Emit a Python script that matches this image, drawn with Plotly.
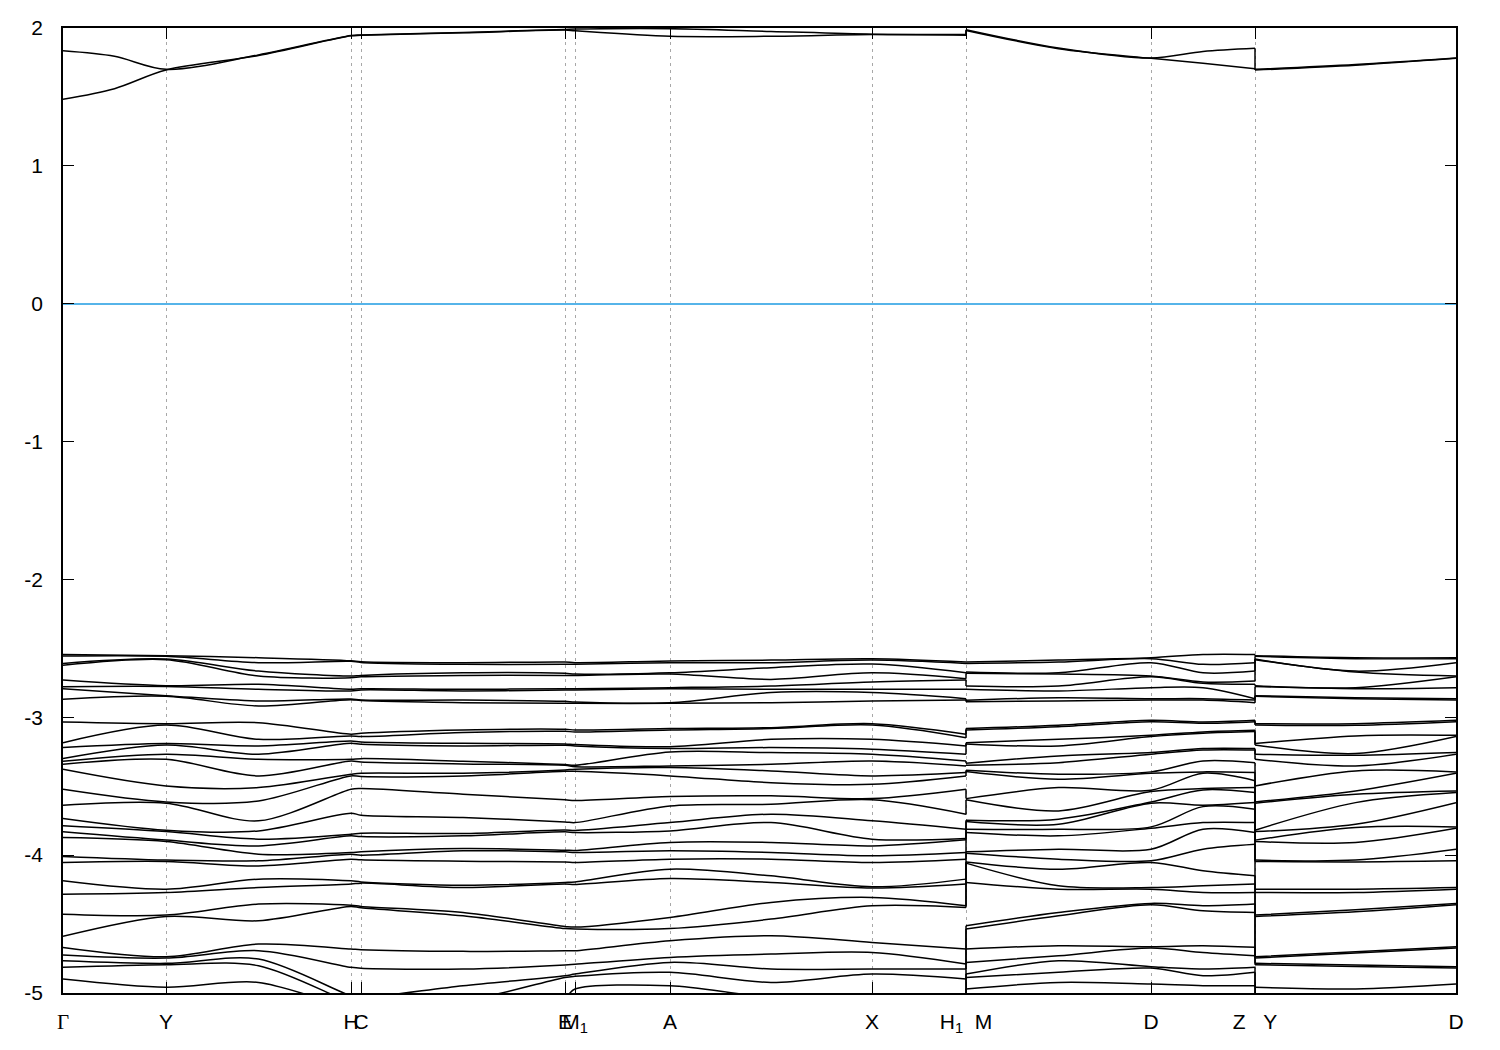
import plotly.graph_objects as go

# ---------------- k-path (arbitrary path-length units) ----------------
K_GAMMA, K_Y, K_H, K_C = 0.0, 1.03, 2.88, 2.98
K_E, K_M1, K_A, K_X = 5.02, 5.12, 6.07, 8.09
K_H1M, K_D, K_ZY, K_DEND = 9.03, 10.88, 11.92, 13.93
# intermediate sampled points along segments
K_GY, K_YH, K_CE, K_AX = 0.515, 1.955, 4.00, 7.08
K_MD, K_DZ, K_YD = 9.955, 11.40, 12.925

TICK_POS = [K_GAMMA, K_Y, K_H, K_C, K_E, K_M1, K_A, K_X, K_H1M, K_D, K_ZY, K_DEND]
TICK_TEXT = ["<span style='font-family:Liberation Serif'>Γ</span>", "Y", "H", "C", "E",
             "M<sub>1</sub>", "A", "X",
             "H<sub>1</sub>\u00a0\u00a0M", "D", "Z\u00a0\u00a0\u00a0Y", "D"]
Y_TICKS = [-5, -4, -3, -2, -1, 0, 1, 2]
Y_TICK_TEXT = ["-5", "-4", "-3", "-2", "-1", "0", "1", "2"]

# ---------------- valence bands (eV), sorted, one list per k-point ----------------
VB_GAMMA = [-2.544, -2.556, -2.609, -2.623, -2.730, -2.778, -2.793, -2.870,
            -3.034, -3.184, -3.220, -3.299, -3.319, -3.341, -3.377, -3.522, -3.638, -3.734,
            -3.787, -3.831, -3.872, -4.010, -4.053, -4.186, -4.283, -4.428, -4.589, -4.669,
            -4.725, -4.766, -4.814, -4.899, -5.020, -5.090]
VB_Y = [-2.553, -2.558, -2.578, -2.582, -2.771, -2.776, -2.843, -2.848,
        -3.046, -3.056, -3.191, -3.201, -3.268, -3.305, -3.498, -3.614, -3.623, -3.819,
        -3.829, -3.891, -3.901, -4.036, -4.046, -4.247, -4.271, -4.435, -4.445, -4.737,
        -4.747, -4.785, -4.795, -4.959, -5.020, -5.092]
VB_YH = [-2.568, -2.604, -2.665, -2.701, -2.761, -2.797, -2.882, -2.918,
         -3.039, -3.160, -3.208, -3.268, -3.305, -3.425, -3.510, -3.607, -3.751, -3.824,
         -3.884, -3.933, -3.993, -4.041, -4.078, -4.174, -4.235, -4.355, -4.476, -4.645,
         -4.693, -4.754, -4.802, -4.923, -5.020, -5.068]
VB_H = [-2.590, -2.594, -2.701, -2.713, -2.797, -2.809, -2.867, -2.872,
        -3.123, -3.135, -3.172, -3.189, -3.305, -3.317, -3.413, -3.425, -3.522, -3.696,
        -3.848, -3.860, -3.981, -3.993, -4.029, -4.186, -4.210, -4.363, -4.372, -4.681,
        -4.814, -5.020, -5.068, -5.116, -5.152, -5.177]
VB_C = [-2.597, -2.602, -2.696, -2.706, -2.793, -2.802, -2.875, -2.879,
        -3.116, -3.140, -3.179, -3.196, -3.300, -3.324, -3.406, -3.430, -3.517, -3.710,
        -3.841, -3.865, -3.976, -4.000, -4.034, -4.194, -4.203, -4.372, -4.382, -4.686,
        -4.821, -5.032, -5.080, -5.128, -5.152, -5.177]
VB_CE = [-2.604, -2.616, -2.677, -2.696, -2.797, -2.809, -2.875, -2.894,
         -3.092, -3.111, -3.189, -3.208, -3.319, -3.338, -3.406, -3.425, -3.558, -3.727,
         -3.843, -3.860, -3.952, -3.969, -4.044, -4.218, -4.235, -4.416, -4.440, -4.698,
         -4.826, -4.947, -5.056, -5.104, -5.141, -5.165]
VB_E = [-2.599, -2.616, -2.681, -2.696, -2.793, -2.802, -2.884, -2.899,
        -3.087, -3.102, -3.193, -3.203, -3.343, -3.348, -3.382, -3.392, -3.599, -3.759,
        -3.817, -3.831, -3.964, -3.976, -4.049, -4.198, -4.210, -4.517, -4.532, -4.693,
        -4.797, -4.875, -4.887, -5.030, -5.056, -5.104]
VB_M1 = [-2.604, -2.616, -2.686, -2.696, -2.793, -2.802, -2.889, -2.899,
         -3.092, -3.106, -3.198, -3.208, -3.348, -3.358, -3.377, -3.392, -3.604, -3.764,
         -3.821, -3.836, -3.966, -3.981, -4.053, -4.194, -4.213, -4.522, -4.536, -4.693,
         -4.792, -4.863, -4.879, -4.971, -5.044, -5.092]
VB_A = [-2.592, -2.604, -2.677, -2.686, -2.785, -2.793, -2.894, -2.899,
        -3.082, -3.092, -3.213, -3.227, -3.251, -3.353, -3.365, -3.425, -3.575, -3.643,
        -3.764, -3.824, -3.908, -3.969, -4.029, -4.102, -4.169, -4.452, -4.532, -4.621,
        -4.742, -4.778, -4.850, -4.947, -5.044, -5.092]
VB_AX = [-2.585, -2.604, -2.640, -2.725, -2.773, -2.797, -2.821, -2.894,
         -3.075, -3.082, -3.160, -3.220, -3.256, -3.341, -3.389, -3.474, -3.570, -3.631,
         -3.703, -3.764, -3.908, -3.981, -4.029, -4.150, -4.198, -4.343, -4.464, -4.585,
         -4.718, -4.826, -4.923, -5.030, -5.060, -5.092]
VB_X = [-2.575, -2.585, -2.614, -2.677, -2.744, -2.797, -2.821, -2.882,
        -3.046, -3.056, -3.160, -3.232, -3.268, -3.317, -3.425, -3.486, -3.590, -3.599,
        -3.751, -3.884, -3.933, -4.005, -4.053, -4.230, -4.239, -4.307, -4.367, -4.633,
        -4.706, -4.826, -4.863, -5.030, -5.060, -5.092]
VB_H1 = [-2.599, -2.609, -2.677, -2.720, -2.730, -2.797, -2.865, -2.875,
         -3.123, -3.148, -3.208, -3.268, -3.317, -3.353, -3.401, -3.425, -3.522, -3.703,
         -3.812, -3.879, -3.889, -3.981, -4.029, -4.174, -4.210, -4.367, -4.379, -4.681,
         -4.790, -4.826, -4.899, -5.030, -5.060, -5.092]
VB_M = [-2.599, -2.609, -2.672, -2.681, -2.773, -2.797, -2.877, -2.887,
        -3.082, -3.092, -3.184, -3.193, -3.334, -3.348, -3.384, -3.394, -3.590, -3.599,
        -3.747, -3.756, -3.812, -3.836, -3.976, -3.986, -4.049, -4.058, -4.198, -4.512,
        -4.536, -4.681, -4.778, -4.863, -4.887, -4.971]
VB_MD = [-2.585, -2.599, -2.677, -2.686, -2.773, -2.809, -2.858, -2.882,
         -3.058, -3.068, -3.160, -3.208, -3.280, -3.329, -3.413, -3.450, -3.510, -3.679,
         -3.739, -3.776, -3.812, -3.860, -3.957, -4.029, -4.102, -4.222, -4.247, -4.416,
         -4.440, -4.657, -4.730, -4.766, -4.850, -4.923]
VB_D = [-2.568, -2.575, -2.604, -2.701, -2.706, -2.785, -2.865, -2.875,
        -3.022, -3.032, -3.131, -3.140, -3.256, -3.268, -3.396, -3.406, -3.529, -3.539,
        -3.614, -3.623, -3.795, -3.805, -3.957, -4.041, -4.053, -4.235, -4.247, -4.350,
        -4.360, -4.664, -4.674, -4.809, -4.819, -4.935]
VB_DZ = [-2.544, -2.616, -2.677, -2.744, -2.754, -2.785, -2.865, -2.875,
         -3.034, -3.044, -3.106, -3.116, -3.227, -3.237, -3.317, -3.396, -3.406, -3.517,
         -3.527, -3.638, -3.648, -3.764, -3.812, -3.957, -4.114, -4.222, -4.271, -4.367,
         -4.404, -4.657, -4.706, -4.826, -4.875, -4.947]
VB_Z = [-2.544, -2.604, -2.665, -2.737, -2.761, -2.865, -2.875, -2.894,
        -3.022, -3.032, -3.094, -3.104, -3.227, -3.237, -3.329, -3.401, -3.460, -3.510,
        -3.546, -3.619, -3.667, -3.764, -3.836, -3.921, -4.150, -4.210, -4.271, -4.355,
        -4.416, -4.669, -4.730, -4.814, -4.850, -4.947]
VB_YD = [-2.568, -2.575, -2.665, -2.672, -2.785, -2.793, -2.858, -2.865,
         -3.046, -3.058, -3.135, -3.263, -3.276, -3.353, -3.389, -3.534, -3.558, -3.619,
         -3.776, -3.800, -3.908, -4.036, -4.049, -4.247, -4.271, -4.396, -4.411, -4.701,
         -4.710, -4.797, -4.807, -4.971, -5.044, -5.092]
VB_DEND = [-2.568, -2.575, -2.604, -2.701, -2.706, -2.785, -2.865, -2.875,
           -3.022, -3.032, -3.131, -3.140, -3.256, -3.268, -3.396, -3.406, -3.534, -3.546,
           -3.619, -3.795, -3.805, -3.957, -4.041, -4.235, -4.247, -4.350, -4.360, -4.664,
           -4.674, -4.809, -4.819, -4.935, -5.044, -5.092]

# ---------------- conduction bands (eV) ----------------
CB_K_LEFT = [K_GAMMA, K_GY, K_Y, K_YH, K_H, K_C, K_CE, K_E, K_M1, K_A, K_AX, K_X, K_H1M]
CB_K_MID = [K_H1M, K_MD, K_D, K_DZ, K_ZY]
CB_K_RIGHT = [K_ZY, K_YD, K_DEND]
CB_LOW_LEFT = [1.483, 1.560, 1.695, 1.800, 1.943, 1.947, 1.965, 1.985, 1.980, 1.940, 1.940, 1.952, 1.948]
CB_LOW_MID = [1.982, 1.850, 1.780, 1.745, 1.705]
CB_LOW_RIGHT = [1.695, 1.730, 1.780]
CB_HIGH_LEFT = [1.835, 1.795, 1.700, 1.805, 1.946, 1.950, 1.968, 1.990, 1.992, 1.995, 1.975, 1.955, 1.952]
CB_HIGH_MID = [1.988, 1.855, 1.782, 1.830, 1.853]
CB_HIGH_RIGHT = [1.700, 1.735, 1.782]

# ---------------- assemble ----------------
VB_K_LEFT = [K_GAMMA, K_Y, K_YH, K_H, K_C, K_CE, K_E, K_M1, K_A, K_AX, K_X, K_H1M]
VB_LEFT = [VB_GAMMA, VB_Y, VB_YH, VB_H, VB_C, VB_CE, VB_E, VB_M1, VB_A, VB_AX, VB_X, VB_H1]
VB_K_MID = [K_H1M, K_MD, K_D, K_DZ, K_ZY]
VB_MID = [VB_M, VB_MD, VB_D, VB_DZ, VB_Z]
VB_K_RIGHT = [K_ZY, K_YD, K_DEND]
VB_RIGHT = [VB_Y, VB_YD, VB_DEND]

LINE = dict(color="black", width=1.5, shape="spline", smoothing=0.9)
fig = go.Figure()

n_bands = len(VB_GAMMA)
jx, jy = [], []
for j in range(n_bands):
    xs = VB_K_LEFT + [None] + VB_K_MID + [None] + VB_K_RIGHT
    ys = ([v[j] for v in VB_LEFT] + [None] + [v[j] for v in VB_MID] + [None]
          + [v[j] for v in VB_RIGHT])
    fig.add_trace(go.Scatter(x=xs, y=ys, mode="lines", line=LINE,
                             connectgaps=False, hoverinfo="skip", showlegend=False))
    # vertical jumps at path discontinuities
    jx += [K_H1M, K_H1M, None, K_ZY, K_ZY, None]
    jy += [VB_H1[j], VB_M[j], None, VB_Z[j], VB_Y[j], None]

for left, mid, right in [(CB_LOW_LEFT, CB_LOW_MID, CB_LOW_RIGHT),
                         (CB_HIGH_LEFT, CB_HIGH_MID, CB_HIGH_RIGHT)]:
    xs = CB_K_LEFT + [None] + CB_K_MID + [None] + CB_K_RIGHT
    ys = left + [None] + mid + [None] + right
    fig.add_trace(go.Scatter(x=xs, y=ys, mode="lines", line=LINE,
                             connectgaps=False, hoverinfo="skip", showlegend=False))
    jx += [K_H1M, K_H1M, None, K_ZY, K_ZY, None]
    jy += [left[-1], mid[0], None, mid[-1], right[0], None]

fig.add_trace(go.Scatter(x=jx, y=jy, mode="lines", line=dict(color="black", width=1.5),
                         connectgaps=False, hoverinfo="skip", showlegend=False))

FONT = "Liberation Sans, Arial, sans-serif"
# the page body adds an 8 px border, so the figure is sized to fit inside 1500x1050
fig.update_layout(
    template="none",
    width=1484, height=1034,
    margin=dict(l=55, r=36, t=20, b=49, autoexpand=False),
    paper_bgcolor="white", plot_bgcolor="white",
    font=dict(family=FONT, size=21, color="black"),
    showlegend=False,
    xaxis=dict(range=[K_GAMMA, K_DEND], tickmode="array", tickvals=TICK_POS,
               ticktext=TICK_TEXT, tickangle=0, ticks="inside", ticklen=11,
               tickcolor="black", tickwidth=1.3, showline=True, linecolor="black",
               linewidth=1.5, mirror="ticks", showgrid=True, gridcolor="#a8a8a8",
               gridwidth=1, griddash="3px,4px", zeroline=False, automargin=False,
               ticklabelstandoff=9, tickfont=dict(family=FONT, size=21)),
    yaxis=dict(range=[-5, 2], tickmode="array", tickvals=Y_TICKS, ticktext=Y_TICK_TEXT,
               ticks="inside", ticklen=11, tickcolor="black", tickwidth=1.3,
               showline=True, linecolor="black", linewidth=1.5, mirror="ticks",
               showgrid=False, zeroline=True, zerolinecolor="#56b4e9", zerolinewidth=1.5,
               automargin=False, ticklabelstandoff=14,
               tickfont=dict(family=FONT, size=21)),
)

fig.write_html("out.html")
